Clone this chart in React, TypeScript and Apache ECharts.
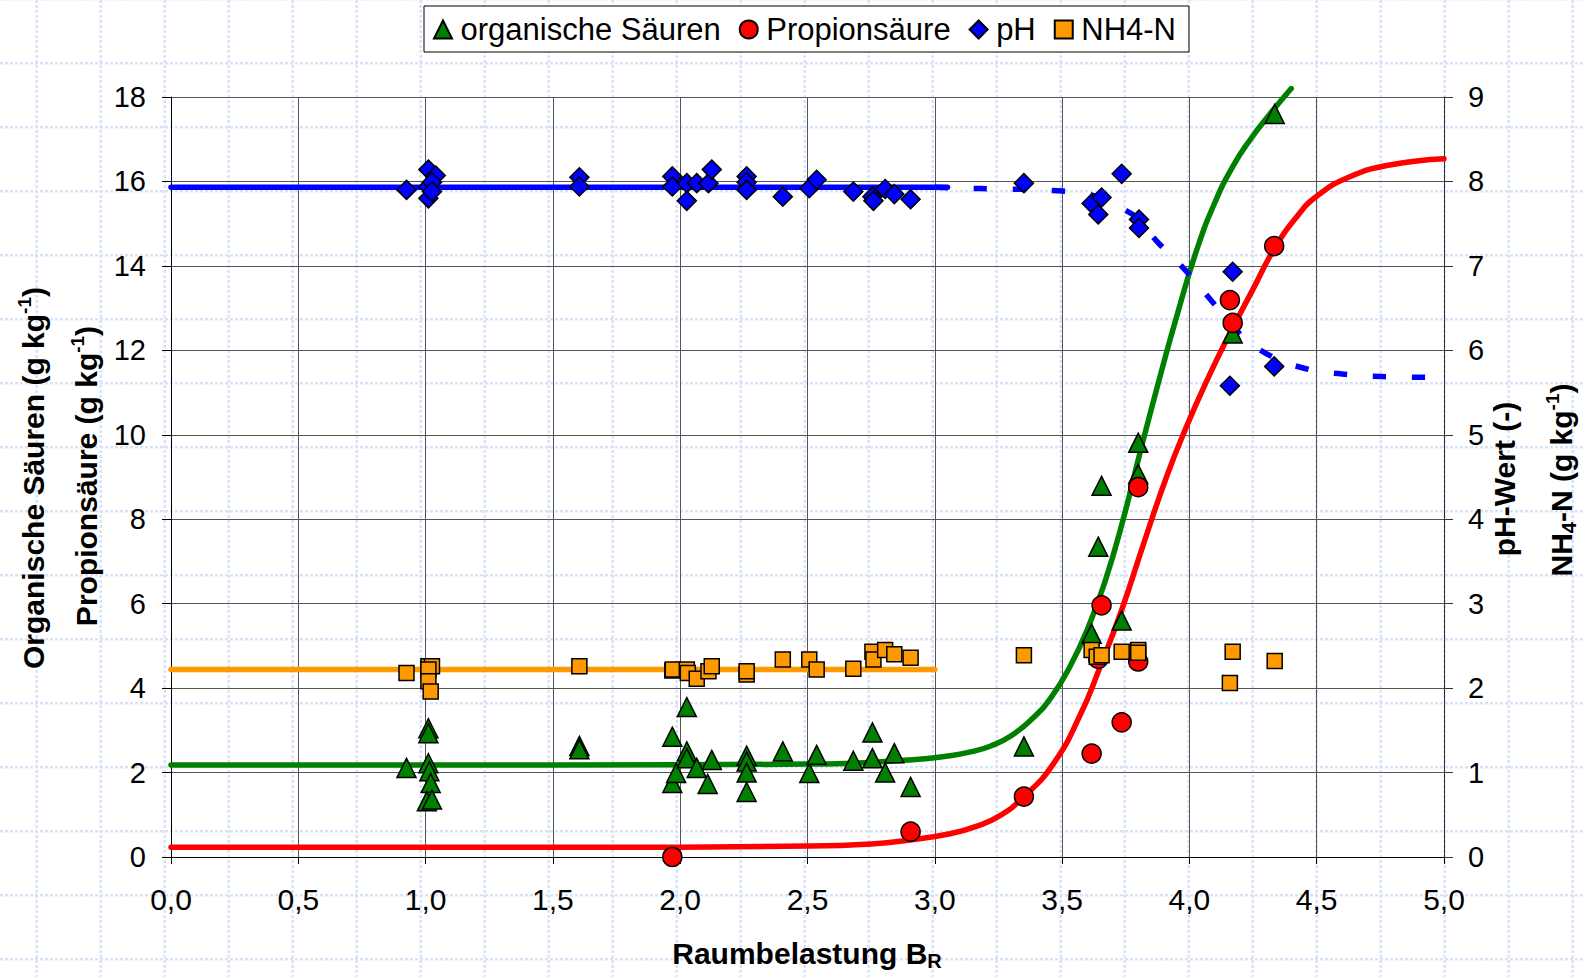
import React, { useEffect, useRef } from "react";
import * as echarts from "echarts";

// ---------- data ----------
// organische Säuren (left axis, g/kg)
const osPoints: [number, number][] = [
  [0.925, 2.11], [1.011, 3.05], [1.011, 2.93], [1.011, 2.22], [1.015, 2.03], [1.02, 1.75],
  [1.005, 1.32], [1.025, 1.36], [1.604, 2.63], [1.604, 2.55], [1.969, 2.85], [1.969, 1.75],
  [1.984, 1.99], [2.026, 3.55], [2.026, 2.5], [2.026, 2.34], [2.065, 2.11], [2.108, 1.73],
  [2.124, 2.3], [2.261, 2.4], [2.261, 2.26], [2.261, 2.0], [2.261, 1.54], [2.403, 2.5],
  [2.507, 1.99], [2.536, 2.42], [2.68, 2.28], [2.755, 2.95], [2.755, 2.34], [2.805, 2.0],
  [2.841, 2.46], [2.905, 1.66], [3.35, 2.62], [3.616, 5.29], [3.642, 7.35], [3.655, 8.79],
  [3.734, 5.6], [3.799, 9.81], [3.799, 9.07], [4.17, 12.4], [4.335, 17.6],
];
// Propionsäure (left axis, g/kg)
const propPoints: [number, number][] = [
  [1.969, 0.0], [2.905, 0.6], [3.35, 1.43], [3.616, 2.45], [3.642, 4.69], [3.655, 5.96],
  [3.734, 3.19], [3.799, 8.76], [3.799, 4.63], [4.159, 13.19], [4.17, 12.65], [4.333, 14.47],
];
// pH (right axis)
const phPoints: [number, number][] = [
  [0.925, 7.9], [1.011, 8.14], [1.04, 8.07], [1.011, 7.94], [1.025, 7.99], [1.011, 7.8],
  [1.025, 7.88], [1.604, 8.05], [1.604, 7.94], [1.969, 8.06], [1.969, 7.94], [2.026, 7.98],
  [2.026, 7.77], [2.065, 7.98], [2.111, 7.98], [2.124, 8.14], [2.261, 8.06], [2.261, 7.99],
  [2.261, 7.9], [2.403, 7.82], [2.507, 7.92], [2.536, 8.02], [2.68, 7.88], [2.755, 7.82],
  [2.759, 7.77], [2.805, 7.91], [2.841, 7.85], [2.905, 7.79], [3.35, 7.98], [3.616, 7.74],
  [3.655, 7.81], [3.642, 7.61], [3.734, 8.09], [3.802, 7.55], [3.802, 7.45], [4.17, 6.93],
  [4.159, 5.58], [4.333, 5.81],
];
// NH4-N (right axis, g/kg)
const nh4Points: [number, number][] = [
  [0.925, 2.18], [1.011, 2.26], [1.025, 2.26], [1.011, 2.22], [1.011, 2.08], [1.02, 1.96],
  [1.604, 2.26], [1.969, 2.21], [1.971, 2.22], [2.026, 2.22], [2.03, 2.18], [2.065, 2.11],
  [2.111, 2.2], [2.124, 2.26], [2.261, 2.16], [2.261, 2.2], [2.403, 2.34], [2.507, 2.34],
  [2.536, 2.22], [2.68, 2.23], [2.755, 2.43], [2.759, 2.34], [2.805, 2.45], [2.841, 2.4],
  [2.905, 2.36], [3.35, 2.39], [3.616, 2.45], [3.636, 2.37], [3.655, 2.39], [3.734, 2.43],
  [3.799, 2.45], [3.799, 2.42], [4.17, 2.43], [4.159, 2.06], [4.335, 2.32],
];
// fitted curves
const osFit: [number, number][] = [
  [0, 2.18], [1.5, 2.18], [2.5, 2.2], [2.9, 2.3], [3.06, 2.4], [3.14, 2.49], [3.22, 2.63],
  [3.3, 2.87], [3.387, 3.3], [3.457, 3.78], [3.53, 4.5], [3.6, 5.4], [3.67, 6.55], [3.74, 8.0],
  [3.805, 9.55], [3.87, 11.05], [3.95, 12.8], [4.03, 14.4], [4.1, 15.5], [4.17, 16.35],
  [4.24, 17.0], [4.31, 17.55], [4.4, 18.2],
];
const propFit: [number, number][] = [
  [0, 0.23], [1.5, 0.23], [2.5, 0.26], [2.75, 0.31], [2.9, 0.4], [3.06, 0.55], [3.16, 0.72],
  [3.256, 0.98], [3.35, 1.43], [3.465, 2.2], [3.57, 3.35], [3.649, 4.5], [3.734, 5.85],
  [3.819, 7.4], [3.91, 9.0], [3.989, 10.2], [4.07, 11.3], [4.146, 12.25], [4.25, 13.45],
  [4.333, 14.4], [4.42, 15.15], [4.5, 15.65], [4.63, 16.11], [4.787, 16.39], [5.0, 16.54],
];
const phFitSolid: [number, number][] = [[0, 7.93], [3.05, 7.93]];
const phFitDashed: [number, number][] = [
  [3.0, 7.93], [3.18, 7.915], [3.485, 7.89], [3.76, 7.64], [3.88, 7.265], [3.99, 6.93],
  [4.09, 6.575], [4.19, 6.22], [4.3, 5.965], [4.454, 5.785], [4.6, 5.72], [4.755, 5.69], [4.98, 5.68],
];
const nh4Fit: [number, number][] = [[0, 2.22], [3.0, 2.22]];

const FONT = "'Liberation Sans', Arial, Helvetica, sans-serif";

export default function App() {
  const ref = useRef<HTMLDivElement>(null);
  useEffect(() => {
    if (!ref.current) return;
    const chart = echarts.init(ref.current, null, { renderer: "svg" });

    const bg: any[] = [];
    for (let k = 0; k <= 24; k++) {
      const x = 36.7 + 64 * k;
      bg.push({ type: "line", silent: true, z: -5, shape: { x1: x, y1: 0, x2: x, y2: 977 },
        style: { stroke: "#d9e3f8", lineWidth: 2.5, lineDash: [3, 2] } });
    }
    for (let k = 0; k <= 15; k++) {
      const y = -0.7 + 64 * k;
      bg.push({ type: "line", silent: true, z: -5, shape: { x1: 0, y1: y, x2: 1585, y2: y },
        style: { stroke: "#d9e3f8", lineWidth: 2.5, lineDash: [3, 2] } });
    }
    const rich = {
      b: { fontSize: 30, fontWeight: "bold", fontFamily: FONT, color: "#000", lineHeight: 36 },
      sup: { fontSize: 19, fontWeight: "bold", fontFamily: FONT, color: "#000", lineHeight: 20, verticalAlign: "top" },
      sub: { fontSize: 20, fontWeight: "bold", fontFamily: FONT, color: "#000", lineHeight: 20, verticalAlign: "bottom" },
    };
    const title = (x: number, y: number, text: string, rot: number) => ({
      type: "text", x, y, rotation: rot, z: 50, silent: true,
      style: { text, rich, align: "center", verticalAlign: "middle" },
    });

    const lineBase = (name: string, data: any, color: string, yAxisIndex: number, extra: any = {}) => ({
      name, type: "line", data, yAxisIndex, symbol: "none", showSymbol: false, clip: false,
      lineStyle: { color, width: 5.5, cap: "round", join: "round", ...(extra.lineStyle || {}) },
      itemStyle: { color }, smooth: extra.smooth ?? false, z: 2, silent: true,
    });
    const scat = (name: string, data: any, color: string, symbol: string, size: number, yAxisIndex: number) => ({
      name, type: "scatter", data, yAxisIndex, symbol, symbolSize: size, z: 3,
      itemStyle: { color, borderColor: "#000", borderWidth: 1.5, opacity: 1 },
    });

    chart.setOption({
      animation: false,
      textStyle: { fontFamily: FONT },
      grid: { left: 171, right: 141, top: 97, bottom: 120 },
      legend: {
        data: [
          { name: "organische Säuren", icon: "path://M5 0L10 10L0 10Z" },
          { name: "Propionsäure", icon: "circle" },
          { name: "pH", icon: "path://M5 0L10 5L5 10L0 5Z" },
          { name: "NH4-N", icon: "path://M0 0H10V10H0Z" },
        ],
        symbolKeepAspect: true,
        left: 424, top: 6, padding: [8, 13, 7, 9], itemGap: 18, itemWidth: 25, itemHeight: 18,
        borderColor: "#000", borderWidth: 1, backgroundColor: "#fff",
        textStyle: { fontSize: 31, color: "#000", fontFamily: FONT }, z: 10,
      },
      xAxis: {
        type: "value", min: 0, max: 5, interval: 0.5,
        axisLine: { lineStyle: { color: "#000", width: 1 } },
        axisTick: { show: true, length: 7, lineStyle: { color: "#000" } },
        axisLabel: { fontSize: 30, color: "#000", margin: 27, formatter: (v: number) => v.toFixed(1).replace(".", ",") },
        splitLine: { show: true, lineStyle: { color: "#555", width: 1 } },
      },
      yAxis: [
        {
          type: "value", min: 0, max: 18, interval: 2, position: "left",
          axisLine: { show: true, lineStyle: { color: "#000", width: 1 } },
          axisTick: { show: true, length: 9, lineStyle: { color: "#000" } },
          axisLabel: { fontSize: 29, color: "#000", margin: 25 },
          splitLine: { show: true, lineStyle: { color: "#555", width: 1 } },
        },
        {
          type: "value", min: 0, max: 9, interval: 1, position: "right",
          axisLine: { show: true, lineStyle: { color: "#333", width: 1 } },
          axisTick: { show: true, length: 9, lineStyle: { color: "#333" } },
          axisLabel: { fontSize: 29, color: "#000", margin: 24 },
          splitLine: { show: false },
        },
      ],
      graphic: [
        ...bg,
        title(33, 478, "{b|Organische Säuren (g kg}{sup|-1}{b|)}", Math.PI / 2),
        title(86, 476, "{b|Propionsäure (g kg}{sup|-1}{b|)}", Math.PI / 2),
        title(1504, 479, "{b|pH-Wert (-)}", Math.PI / 2),
        title(1561, 480, "{b|NH}{sub|4}{b|-N (g kg}{sup|-1}{b|)}", Math.PI / 2),
        title(807, 953, "{b|Raumbelastung B}{sub|R}", 0),
      ],
      series: [
        lineBase("fitOS", osFit, "#008000", 0, { smooth: 0.5 }),
        lineBase("fitProp", propFit, "#ff0000", 0, { smooth: 0.5 }),
        lineBase("fitNH4", nh4Fit, "#ff9900", 1),
        lineBase("fitPH", phFitSolid, "#0000ff", 1),
        scat("organische Säuren", osPoints, "#008000", "triangle", 19, 0),
        scat("Propionsäure", propPoints, "#ff0000", "circle", 19, 0),
        lineBase("fitPHdash", phFitDashed, "#0000ff", 1, {
          smooth: 0.5, lineStyle: { type: [13, 26], dashOffset: 0, cap: "butt" },
        }),
        scat("pH", phPoints, "#0000ff", "diamond", 19, 1),
        scat("NH4-N", nh4Points, "#ff9900", "rect", 15, 1),
      ],
    });
    return () => chart.dispose();
  }, []);
  return (
    <div
      ref={ref}
      style={{ position: "fixed", left: 0, top: 0, width: 1585, height: 977, background: "#fff" }}
    />
  );
}
